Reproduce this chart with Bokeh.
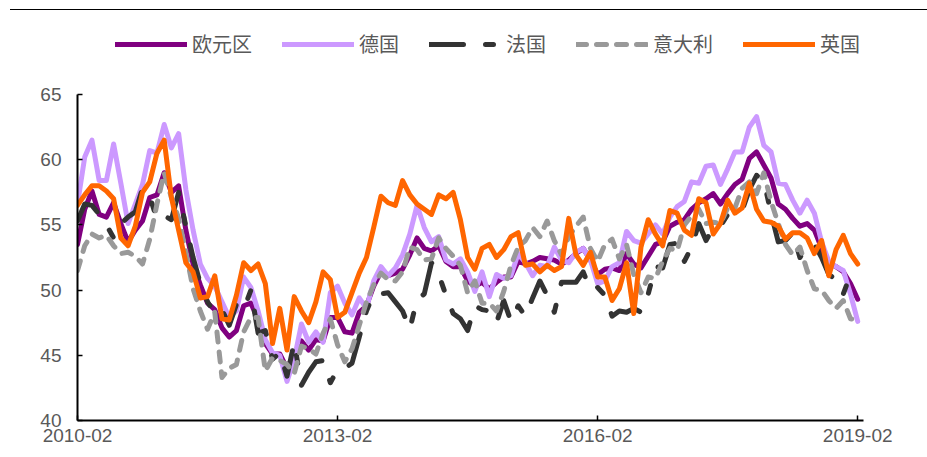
from bokeh.plotting import figure
from bokeh.models import Range1d, FixedTicker, Legend, LegendItem, Div
from bokeh.layouts import column
from bokeh.embed import file_html
from bokeh.resources import INLINE

# ---- data -------------------------------------------------------------
months = [f"{y}-{m:02d}" for y in range(2010, 2020) for m in range(1, 13)][1:110]  # 2010-02 .. 2019-02
tick_labels = ["2010-02", "2013-02", "2016-02", "2019-02"]
y_ticks = [40, 45, 50, 55, 60, 65]
series_names = ["欧元区", "德国", "法国", "意大利", "英国"]

ez = [53.5, 56.2, 57.6, 55.8, 55.6, 56.7, 55.1, 53.7, 54.6, 55.3, 57.1,
      57.3, 59.0, 57.5, 58.0, 54.6, 52.0, 50.4, 49.0, 48.5, 47.1, 46.4, 46.9,
      48.8, 49.0, 47.7, 45.9, 45.1, 45.1, 44.0, 45.1, 46.1, 45.4, 46.2, 46.1,
      47.9, 47.9, 46.8, 46.7, 48.3, 48.8, 50.3, 51.4, 51.1, 51.3, 51.6, 52.7,
      54.0, 53.2, 53.0, 53.4, 52.2, 51.8, 51.8, 50.7, 50.3, 50.6, 50.1, 50.6,
      51.0, 51.0, 52.2, 52.0, 52.2, 52.5, 52.4, 52.3, 52.0, 52.3, 52.8, 53.2,
      52.3, 51.2, 51.6, 51.7, 51.5, 52.8, 52.0, 51.7, 52.6, 53.5, 53.7, 54.9,
      55.2, 55.4, 56.2, 56.7, 57.0, 57.4, 56.6, 57.4, 58.1, 58.5, 60.1, 60.6,
      59.6, 58.6, 56.6, 56.2, 55.5, 54.9, 55.1, 54.6, 53.2, 52.0, 51.8, 51.4,
      50.5, 49.3]

de = [56.6, 60.2, 61.5, 58.4, 58.4, 61.2, 58.2, 55.1, 56.6, 58.1, 60.7,
      60.5, 62.7, 60.9, 62.0, 57.7, 54.6, 52.0, 50.9, 50.3, 49.1, 47.9, 48.4,
      51.0, 50.2, 48.4, 46.2, 45.2, 45.0, 43.0, 44.7, 47.4, 46.0, 46.8, 46.0,
      49.8, 50.3, 49.0, 48.1, 49.4, 48.6, 50.7, 51.8, 51.1, 51.7, 52.7, 54.3,
      56.5, 54.8, 53.7, 54.1, 52.3, 52.0, 52.4, 51.4, 49.9, 51.4, 49.5, 51.2,
      50.9, 51.1, 52.8, 52.1, 51.1, 51.9, 51.8, 53.3, 52.3, 52.1, 52.9, 53.2,
      52.3, 50.5, 50.7, 51.8, 52.1, 54.5, 53.8, 53.6, 54.3, 55.0, 54.3, 55.6,
      56.4, 56.8, 58.3, 58.2, 59.5, 59.6, 58.1, 59.3, 60.6, 60.6, 62.5, 63.3,
      61.1, 60.6, 58.2, 58.1, 56.9, 55.9, 56.9, 55.9, 53.7, 52.2, 51.8, 51.5,
      49.7, 47.6]

fr = [55.3, 56.6, 56.5, 55.8, 55.0, 54.0, 55.1, 55.6, 56.0, 57.8, 57.2,
      55.4, 55.7, 55.4, 57.5, 54.9, 52.5, 50.5, 49.1, 48.2, 48.5, 47.3, 48.9,
      48.5, 50.0, 46.7, 46.9, 44.7, 45.2, 43.4, 46.0, 42.7, 43.7, 44.5, 44.6,
      42.9, 43.9, 44.0, 44.4, 46.4, 48.4, 49.7, 49.7, 49.8, 49.1, 48.4, 47.0,
      49.3, 49.7, 52.1, 51.2, 49.6, 48.2, 47.8, 46.9, 48.8, 48.5, 48.4, 47.5,
      49.2, 47.6, 48.8, 48.0, 49.4, 50.7, 49.6, 48.3, 50.6, 50.6, 50.6, 51.4,
      50.0, 50.2, 49.6, 48.0, 48.4, 48.3, 48.6, 48.3, 49.7, 51.8, 51.7, 53.5,
      53.6, 52.2, 53.3, 55.1, 53.8, 54.8, 54.9, 55.8, 56.1, 56.1, 57.7, 58.8,
      58.4, 55.9, 53.7, 53.8, 54.4, 52.5, 53.3, 53.5, 52.5, 51.2, 50.8, 49.7,
      51.2, 51.5]

it = [51.5, 53.4, 54.3, 54.0, 54.2, 53.4, 52.8, 52.9, 52.6, 52.0, 53.9,
      56.6, 59.0, 57.1, 55.5, 52.9, 50.1, 48.4, 47.0, 48.3, 43.3, 44.0, 44.3,
      46.8, 47.9, 47.9, 43.8, 44.8, 44.6, 44.3, 43.6, 45.7, 45.5, 45.1, 46.7,
      47.8, 45.8, 44.5, 45.5, 47.3, 49.1, 50.4, 51.3, 50.8, 50.7, 51.4, 53.3,
      53.1, 52.3, 52.4, 54.0, 53.2, 52.6, 51.9, 49.8, 50.7, 49.0, 49.0, 48.4,
      49.9, 51.9, 53.3, 53.8, 54.8, 54.1, 55.3, 53.8, 52.7, 54.1, 54.9, 55.6,
      53.2, 52.2, 53.5, 53.9, 52.4, 53.5, 51.2, 49.8, 51.0, 50.9, 52.2, 53.2,
      53.0, 55.0, 55.7, 56.2, 55.1, 55.2, 55.1, 56.3, 56.3, 57.8, 58.3, 57.4,
      59.0, 56.8, 55.1, 53.5, 52.7, 53.3, 51.5, 50.1, 50.0, 49.2, 48.6, 49.2,
      47.8, 47.7]

uk = [56.5, 57.3, 58.0, 58.0, 57.6, 57.0, 54.0, 53.4, 54.9, 57.5, 58.3,
      60.5, 61.5, 57.1, 54.6, 52.1, 51.4, 49.4, 49.5, 51.1, 47.8, 47.7, 49.6,
      52.1, 51.5, 52.0, 50.5, 45.9, 48.6, 45.4, 49.5, 48.4, 47.5, 49.1, 51.4,
      50.8, 47.9, 48.3, 49.8, 51.3, 52.5, 54.8, 57.2, 56.7, 56.5, 58.4, 57.3,
      56.6, 56.2, 55.8, 57.3, 57.0, 57.5, 55.4, 52.5, 51.6, 53.2, 53.5, 52.5,
      53.1, 54.1, 54.4, 51.9, 52.0, 51.4, 51.9, 51.5, 51.8, 55.5, 52.7, 51.9,
      52.9, 51.0, 51.0, 49.2, 50.1, 52.1, 48.2, 53.3, 55.4, 54.3, 53.4, 56.1,
      55.9, 54.6, 54.2, 57.0, 56.7, 54.3, 55.1, 56.9, 55.9, 56.3, 58.2, 56.2,
      55.3, 55.2, 54.9, 53.9, 54.4, 54.4, 54.0, 52.8, 53.8, 51.1, 53.1, 54.2,
      52.8, 52.0]

series = [ez, de, fr, it, uk]

# ---- styles -----------------------------------------------------------
colors = ["#800080", "#cc99ff", "#333333", "#999999", "#ff6600"]
dashes = ["solid", "solid", "34 22 8 22", "10 10", "solid"]
LW = 5

x = list(range(len(months)))

# frame spans 40..65 on the axis; extra headroom above 65 holds the legend
Y_TOP = 40 + 395 / (326 / 25)

p = figure(width=920, height=439, output_backend="svg", toolbar_location=None,
           x_range=Range1d(0, 108.8), y_range=Range1d(40, Y_TOP),
           min_border_left=77, min_border_right=57, min_border_top=14,
           min_border_bottom=30)
p.xgrid.visible = False
p.ygrid.visible = False
p.outline_line_color = None
p.background_fill_color = "white"

renderers = []
for vals, c, d in zip(series, colors, dashes):
    r = p.line(x, vals, line_color=c, line_width=LW, line_dash=d,
               line_cap="round", line_join="round")
    renderers.append(r)

for ax in (p.xaxis[0], p.yaxis[0]):
    ax.axis_line_color = "black"
    ax.axis_line_width = 2
    ax.major_tick_line_color = "black"
    ax.major_tick_line_width = 1.5
    ax.major_tick_in = 5
    ax.major_tick_out = 0
    ax.minor_tick_line_color = None
    ax.major_label_text_font = "Liberation Sans"
    ax.major_label_text_font_size = "19px"
    ax.major_label_text_color = "#595959"

p.yaxis.ticker = FixedTicker(ticks=y_ticks)
p.yaxis.bounds = (y_ticks[0], y_ticks[-1])
p.yaxis.major_label_standoff = 16
p.xaxis.ticker = FixedTicker(ticks=[months.index(t) for t in tick_labels])
p.xaxis.major_label_overrides = {months.index(t): t for t in tick_labels}
p.xaxis.major_label_standoff = 8

legend = Legend(
    items=[LegendItem(label=n, renderers=[r]) for n, r in zip(series_names, renderers)],
    orientation="horizontal", location=(38, 362),
    glyph_width=72, glyph_height=20, label_height=20, label_standoff=5,
    spacing=30, padding=0, margin=0,
    border_line_color=None, background_fill_alpha=0,
    label_text_font="Noto Sans CJK SC", label_text_font_size="20px",
    label_text_color="#595959")
p.add_layout(legend)

top_line = Div(text="", width=917, height=2, margin=(9, 0, 0, 10),
               styles={"border-top": "1.5px solid black", "box-sizing": "border-box"})

layout = column(top_line, p, spacing=0)

open("out.html", "w").write(file_html(layout, INLINE))
